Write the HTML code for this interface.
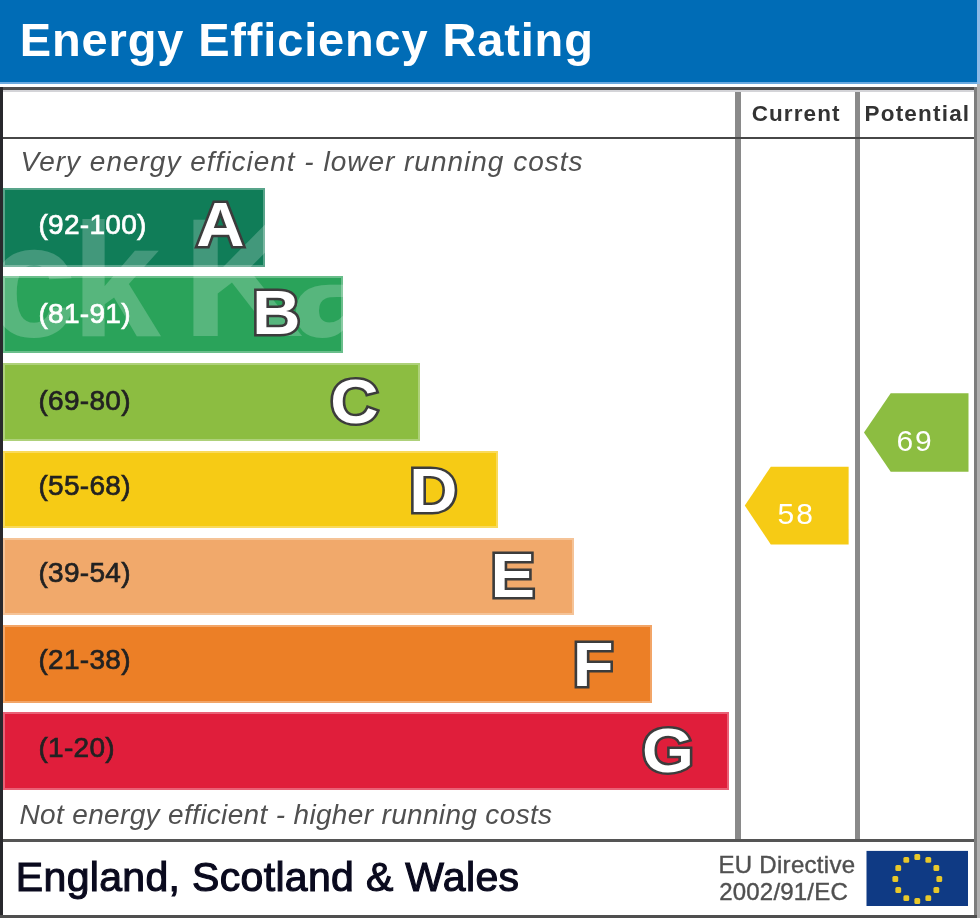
<!DOCTYPE html>
<html><head><meta charset="utf-8"><style>
html,body{margin:0;padding:0;background:#ffffff;}
body{width:980px;height:918px;position:relative;overflow:hidden;font-family:"Liberation Sans",sans-serif;}
#wrap{position:absolute;left:0;top:0;width:980px;height:918px;filter:blur(0.5px);}
.t{position:absolute;white-space:nowrap;line-height:1;font-family:"Liberation Sans",sans-serif;}
</style></head><body>
<div id="wrap">
<div style="position:absolute;left:0;top:0;width:977px;height:82px;background:#006cb6"></div>
<div style="position:absolute;left:0;top:82px;width:977px;height:2.2px;background:#6aaae0"></div>
<div style="position:absolute;left:977px;top:0;width:3px;height:84px;background:#8fbbe6"></div>
<div style="position:absolute;left:977px;top:84px;width:3px;height:834px;background:#b0b0b0"></div>
<div class="t" style="left:19.86px;top:16.22px;font-size:47px;font-weight:bold;font-style:normal;color:#ffffff;letter-spacing:0.84px;">Energy Efficiency Rating</div>
<div style="position:absolute;left:735.2px;top:90px;width:5.8px;height:749px;background:#8a8a8a"></div>
<div style="position:absolute;left:854.8px;top:90px;width:5.4px;height:749px;background:#8a8a8a"></div>
<div style="position:absolute;left:3px;top:90px;width:971px;height:2px;background:#d4d4d8"></div>
<div style="position:absolute;left:0;top:87.2px;width:977px;height:2.8px;background:#505050"></div>
<div style="position:absolute;left:0;top:87px;width:3px;height:831px;background:#28282c"></div>
<div style="position:absolute;left:974px;top:87px;width:2.6px;height:831px;background:#7d7d7d"></div>
<div style="position:absolute;left:0;top:914.5px;width:977px;height:3.5px;background:#4f4f4f"></div>
<div style="position:absolute;left:3px;top:136.8px;width:971px;height:2.6px;background:#474747"></div>
<div style="position:absolute;left:3px;top:838.5px;width:971px;height:3.5px;background:#555555"></div>
<div class="t" style="left:751.68px;top:103.46px;font-size:22.5px;font-weight:bold;font-style:normal;color:#333333;letter-spacing:1.1px;">Current</div>
<div class="t" style="left:864.49px;top:103.46px;font-size:22.5px;font-weight:bold;font-style:normal;color:#333333;letter-spacing:1.2px;">Potential</div>
<div class="t" style="left:20.58px;top:148.30px;font-size:28px;font-weight:normal;font-style:italic;color:#505050;letter-spacing:0.99px;">Very energy efficient - lower running costs</div>
<div class="t" style="left:19.54px;top:800.80px;font-size:28px;font-weight:normal;font-style:italic;color:#505050;letter-spacing:0.34px;">Not energy efficient - higher running costs</div>
<div style="position:absolute;left:3px;top:187.5px;width:261.7px;height:79.0px;background:#107d58;box-shadow:inset 0 0 0 2px rgba(255,255,255,0.3)"></div>
<div style="position:absolute;left:3px;top:275.6px;width:340.2px;height:77.9px;background:#2aa35a;box-shadow:inset 0 0 0 2px rgba(255,255,255,0.3)"></div>
<div style="position:absolute;left:3px;top:362.6px;width:417.0px;height:78.4px;background:#8cbd41;box-shadow:inset 0 0 0 2px rgba(255,255,255,0.3)"></div>
<div style="position:absolute;left:3px;top:450.5px;width:494.6px;height:77.8px;background:#f6cb15;box-shadow:inset 0 0 0 2px rgba(255,255,255,0.3)"></div>
<div style="position:absolute;left:3px;top:537.6px;width:571.4px;height:77.0px;background:#f1a96b;box-shadow:inset 0 0 0 2px rgba(255,255,255,0.3)"></div>
<div style="position:absolute;left:3px;top:625px;width:648.5px;height:78.2px;background:#ec7f26;box-shadow:inset 0 0 0 2px rgba(255,255,255,0.3)"></div>
<div style="position:absolute;left:3px;top:712.4px;width:725.8px;height:78.1px;background:#e01e3b;box-shadow:inset 0 0 0 2px rgba(255,255,255,0.3)"></div>
<div style="position:absolute;left:3px;top:187.5px;width:261.7px;height:79.5px;overflow:hidden"><div style="position:absolute;left:-3px;top:-187.5px;width:980px;height:918px"><div class="t" style="left:-12.82px;top:200.23px;font-size:161px;font-weight:bold;font-style:normal;color:rgba(255,255,255,0.21);letter-spacing:0px;">c</div><div class="t" style="left:71.26px;top:200.23px;font-size:161px;font-weight:bold;font-style:normal;color:rgba(255,255,255,0.21);letter-spacing:0px;">k</div><div class="t" style="left:182.36px;top:194.30px;font-size:168px;font-weight:bold;font-style:normal;color:rgba(255,255,255,0.21);letter-spacing:0px;">K</div><div class="t" style="left:291.28px;top:200.23px;font-size:161px;font-weight:bold;font-style:normal;color:rgba(255,255,255,0.21);letter-spacing:0px;">a</div></div></div><div style="position:absolute;left:3px;top:274.8px;width:340.2px;height:78.2px;overflow:hidden"><div style="position:absolute;left:-3px;top:-274.8px;width:980px;height:918px"><div class="t" style="left:-12.82px;top:200.23px;font-size:161px;font-weight:bold;font-style:normal;color:rgba(255,255,255,0.21);letter-spacing:0px;">c</div><div class="t" style="left:71.26px;top:200.23px;font-size:161px;font-weight:bold;font-style:normal;color:rgba(255,255,255,0.21);letter-spacing:0px;">k</div><div class="t" style="left:182.36px;top:194.30px;font-size:168px;font-weight:bold;font-style:normal;color:rgba(255,255,255,0.21);letter-spacing:0px;">K</div><div class="t" style="left:291.28px;top:200.23px;font-size:161px;font-weight:bold;font-style:normal;color:rgba(255,255,255,0.21);letter-spacing:0px;">a</div></div></div>
<div class="t" style="left:38.46px;top:211.30px;font-size:28px;font-weight:normal;font-style:normal;color:#ffffff;letter-spacing:0.3px;-webkit-text-stroke:0.7px #ffffff;">(92-100)</div>
<div class="t" style="right:735.44px;top:193.08px;font-size:63px;font-weight:bold;color:#ffffff;-webkit-text-stroke:5px #3c3c3c;paint-order:stroke fill;transform:scaleX(1.06);transform-origin:100% 50%;">A</div>
<div class="t" style="left:38.46px;top:299.50px;font-size:28px;font-weight:normal;font-style:normal;color:#ffffff;letter-spacing:0.3px;-webkit-text-stroke:0.7px #ffffff;">(81-91)</div>
<div class="t" style="right:679.84px;top:280.98px;font-size:63px;font-weight:bold;color:#ffffff;-webkit-text-stroke:5px #3c3c3c;paint-order:stroke fill;transform:scaleX(1.06);transform-origin:100% 50%;">B</div>
<div class="t" style="left:38.46px;top:386.90px;font-size:28px;font-weight:normal;font-style:normal;color:#222222;letter-spacing:0.3px;-webkit-text-stroke:0.7px #222222;">(69-80)</div>
<div class="t" style="right:601.68px;top:370.28px;font-size:63px;font-weight:bold;color:#ffffff;-webkit-text-stroke:5px #3c3c3c;paint-order:stroke fill;transform:scaleX(1.06);transform-origin:100% 50%;">C</div>
<div class="t" style="left:38.46px;top:471.60px;font-size:28px;font-weight:normal;font-style:normal;color:#222222;letter-spacing:0.3px;-webkit-text-stroke:0.7px #222222;">(55-68)</div>
<div class="t" style="right:522.65px;top:458.98px;font-size:63px;font-weight:bold;color:#ffffff;-webkit-text-stroke:5px #3c3c3c;paint-order:stroke fill;transform:scaleX(1.06);transform-origin:100% 50%;">D</div>
<div class="t" style="left:38.46px;top:558.90px;font-size:28px;font-weight:normal;font-style:normal;color:#222222;letter-spacing:0.3px;-webkit-text-stroke:0.7px #222222;">(39-54)</div>
<div class="t" style="right:444.54px;top:543.68px;font-size:63px;font-weight:bold;color:#ffffff;-webkit-text-stroke:5px #3c3c3c;paint-order:stroke fill;transform:scaleX(1.06);transform-origin:100% 50%;">E</div>
<div class="t" style="left:38.46px;top:646.30px;font-size:28px;font-weight:normal;font-style:normal;color:#222222;letter-spacing:0.3px;-webkit-text-stroke:0.7px #222222;">(21-38)</div>
<div class="t" style="right:366.89px;top:632.58px;font-size:63px;font-weight:bold;color:#ffffff;-webkit-text-stroke:5px #3c3c3c;paint-order:stroke fill;transform:scaleX(1.06);transform-origin:100% 50%;">F</div>
<div class="t" style="left:38.46px;top:733.50px;font-size:28px;font-weight:normal;font-style:normal;color:#222222;letter-spacing:0.3px;-webkit-text-stroke:0.7px #222222;">(1-20)</div>
<div class="t" style="right:286.39px;top:719.48px;font-size:63px;font-weight:bold;color:#ffffff;-webkit-text-stroke:5px #3c3c3c;paint-order:stroke fill;transform:scaleX(1.06);transform-origin:100% 50%;">G</div>
<svg style="position:absolute;left:0;top:0" width="980" height="918"><polygon points="744.8,505.6 770.8,466.7 848.6,466.7 848.6,544.5 770.8,544.5" fill="#f6cb15"/><polygon points="864,432.5 890.7,393.3 968.5,393.3 968.5,471.8 890.7,471.8" fill="#8cbd41"/></svg>
<div class="t" style="left:777.60px;top:498.61px;font-size:30px;font-weight:normal;font-style:normal;color:#ffffff;letter-spacing:2px;">58</div>
<div class="t" style="left:896.38px;top:426.11px;font-size:30px;font-weight:normal;font-style:normal;color:#ffffff;letter-spacing:2px;">69</div>
<div class="t" style="left:15.84px;top:856.60px;font-size:41px;font-weight:normal;font-style:normal;color:#0a0a1e;letter-spacing:0.33px;-webkit-text-stroke:1.1px #0a0a1e;">England, Scotland &amp; Wales</div>
<div class="t" style="left:718.43px;top:852.99px;font-size:24px;font-weight:normal;font-style:normal;color:#505050;letter-spacing:0.3px;-webkit-text-stroke:0.4px #505050;">EU Directive</div>
<div class="t" style="left:719.19px;top:880.49px;font-size:24px;font-weight:normal;font-style:normal;color:#505050;letter-spacing:0.2px;-webkit-text-stroke:0.4px #505050;">2002/91/EC</div>
<svg style="position:absolute;left:0;top:0" width="980" height="918"><rect x="866.5" y="850.9" width="101.5" height="55.1" fill="#0f3a84"/><rect x="914.40" y="854.10" width="5.8" height="5.8" rx="1.5" fill="#e8c82a"/><rect x="925.40" y="857.05" width="5.8" height="5.8" rx="1.5" fill="#e8c82a"/><rect x="933.45" y="865.10" width="5.8" height="5.8" rx="1.5" fill="#e8c82a"/><rect x="936.40" y="876.10" width="5.8" height="5.8" rx="1.5" fill="#e8c82a"/><rect x="933.45" y="887.10" width="5.8" height="5.8" rx="1.5" fill="#e8c82a"/><rect x="925.40" y="895.15" width="5.8" height="5.8" rx="1.5" fill="#e8c82a"/><rect x="914.40" y="898.10" width="5.8" height="5.8" rx="1.5" fill="#e8c82a"/><rect x="903.40" y="895.15" width="5.8" height="5.8" rx="1.5" fill="#e8c82a"/><rect x="895.35" y="887.10" width="5.8" height="5.8" rx="1.5" fill="#e8c82a"/><rect x="892.40" y="876.10" width="5.8" height="5.8" rx="1.5" fill="#e8c82a"/><rect x="895.35" y="865.10" width="5.8" height="5.8" rx="1.5" fill="#e8c82a"/><rect x="903.40" y="857.05" width="5.8" height="5.8" rx="1.5" fill="#e8c82a"/></svg>
</div>
</body></html>
